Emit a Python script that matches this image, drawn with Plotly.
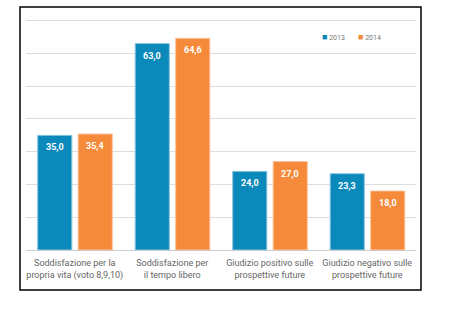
import plotly.graph_objects as go

categories = [
    "Soddisfazione per la<br>propria vita (voto 8,9,10)",
    "Soddisfazione per<br>il tempo libero",
    "Giudizio positivo sulle<br>prospettive future",
    "Giudizio negativo sulle<br>prospettive future",
]
values_2013 = [35.0, 63.0, 24.0, 23.3]
values_2014 = [35.4, 64.6, 27.0, 18.0]
series_names = ["2013", "2014"]

BLUE = "#0a89ba"
ORANGE = "#f58a3b"
FONT = "Roboto, sans-serif"

positions = list(range(len(categories)))
BAR_W = 0.35
# left edge of each series' bar relative to the category centre
OFFSETS = [-0.38, 0.035]

fig = go.Figure()
annotations = []
for name, vals, color, edge, off in [
    (series_names[0], values_2013, BLUE, "#8cc6de", OFFSETS[0]),
    (series_names[1], values_2014, ORANGE, "#fac29c", OFFSETS[1]),
]:
    fig.add_trace(go.Bar(
        name=name,
        x=positions,
        y=vals,
        width=BAR_W,
        offset=off,
        showlegend=False,
        marker=dict(color=color, line=dict(color=edge, width=1)),
    ))
    # value labels just below the top of each bar
    for p, v in zip(positions, vals):
        annotations.append(dict(
            x=p + off + BAR_W / 2, y=v, xref="x", yref="y",
            text=f"{v:.1f}".replace(".", ","),
            showarrow=False, yanchor="middle", yshift=-12,
            font=dict(color="white", size=9, family=FONT, weight="bold"),
        ))

# legend keys: small coloured square followed by the year
for name, color, lx in zip(series_names, [BLUE, ORANGE], [0.755, 0.845]):
    annotations.append(dict(
        x=lx, y=0.922, xref="paper", yref="paper",
        xanchor="left", yanchor="middle", showarrow=False,
        text=f"<span style='color:{color};font-size:9px'>■</span> {name}",
        font=dict(size=7, color="#777777", family=FONT),
    ))

fig.update_layout(
    width=455,
    height=324,
    margin=dict(l=26, r=39, t=19, b=74, autoexpand=False),
    paper_bgcolor="white",
    plot_bgcolor="white",
    showlegend=False,
    font=dict(family=FONT),
    annotations=annotations,
    xaxis=dict(
        range=[-0.5, len(categories) - 0.5],
        tickvals=positions,
        ticktext=categories,
        showgrid=False,
        showline=False,
        zeroline=False,
        ticks="",
        tickangle=0,
        automargin=False,
        ticklabelstandoff=6,
        tickfont=dict(size=9, color="#666666", family=FONT),
    ),
    yaxis=dict(
        range=[0, 70.5],
        dtick=10,
        showgrid=True,
        gridcolor="#dddddd",
        gridwidth=1,
        zeroline=True,
        zerolinecolor="#cccccc",
        zerolinewidth=1,
        showticklabels=False,
        ticks="",
        automargin=False,
    ),
    shapes=[dict(
        type="rect",
        xref="paper", yref="paper",
        x0=-0.0154, x1=1.0128,
        y0=-0.173, y1=1.052,
        line=dict(color="black", width=1.5),
        fillcolor="rgba(0,0,0,0)",
        layer="above",
    )],
)

fig.write_html("out.html")
